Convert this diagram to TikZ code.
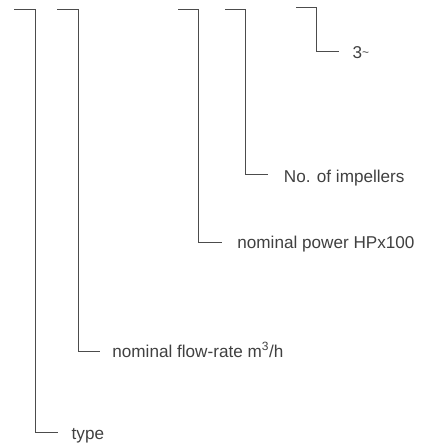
\documentclass[tikz,border=0pt]{standalone}
\usepackage{fontspec}
\setmainfont{Liberation Sans}
\usetikzlibrary{positioning}

\begin{document}
\begin{tikzpicture}[x=1bp,y=1bp,
    bracket/.style={draw=black!70, line width=1bp},
    codelabel/.style={anchor=base west, inner sep=0pt,
      text=black!75, font=\fontsize{17.2}{20}\selectfont}]
      \useasboundingbox (0,0) rectangle (422,-443);
      % type
      \coordinate (a1) at (14.3,-9.3);
      \coordinate (b1) at (35,-9.3);
      \coordinate (e1) at (58.3,-432.5);
      \node [codelabel] (l1) at (71.5,-439.5) {type};
      \draw [bracket] (a1) -- (b1) |- (e1);
      % flow-rate
      \coordinate (a2) at (57,-9.3);
      \coordinate (b2) at (78.3,-9.3);
      \coordinate (e2) at (100,-351.7);
      \node [codelabel] (l2) at (112.2,-357) {nominal flow-rate m\textsuperscript{3}/h};
      \draw [bracket] (a2) -- (b2) |- (e2);
      % power
      \coordinate (a3) at (178,-9.3);
      \coordinate (b3) at (198.5,-9.3);
      \coordinate (e3) at (221.7,-242.7);
      \node [codelabel] (l3) at (237.2,-248.6) {nominal power HPx100};
      \draw [bracket] (a3) -- (b3) |- (e3);
      % impellers
      \coordinate (a4) at (225,-9.3);
      \coordinate (b4) at (245.5,-9.3);
      \coordinate (e4) at (268.3,-175);
      \node [codelabel] (l4) at (283.7,-182.7) {No. of impellers};
      \draw [bracket] (a4) -- (b4) |- (e4);
      % phases
      \coordinate (a5) at (296,-8);
      \coordinate (b5) at (316,-8);
      \coordinate (e5) at (339,-51.7);
      \node [codelabel] (l5) at (352.5,-58.5) {3\raisebox{1.6bp}{\fontsize{12}{12}\selectfont\textasciitilde}};
      \draw [bracket] (a5) -- (b5) |- (e5);
\end{tikzpicture}
\end{document}
